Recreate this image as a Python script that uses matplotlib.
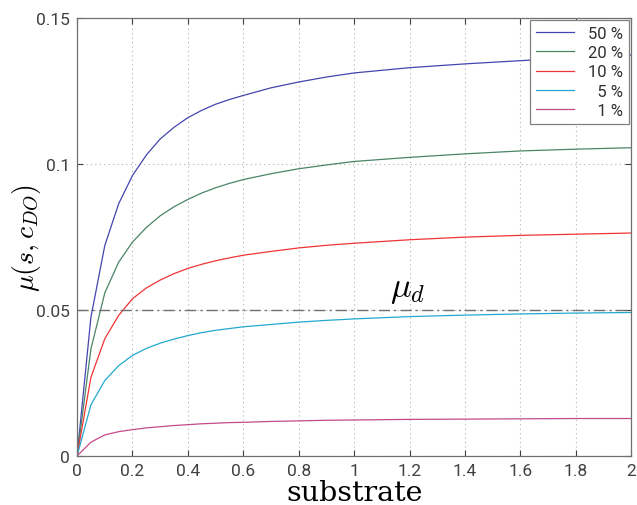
import matplotlib
matplotlib.use("Agg")
import matplotlib.pyplot as plt
import numpy as np

# substrate samples and growth rates
substrate = [0, 0.05, 0.1, 0.15, 0.2, 0.25, 0.3, 0.35, 0.4, 0.45, 0.5, 0.55, 0.6,
             0.7, 0.8, 0.9, 1.0, 1.2, 1.4, 1.6, 1.8, 2.0]
mu_50 = [0, 0.0475, 0.0720, 0.0863, 0.0960, 0.1030, 0.1085, 0.1125, 0.1158, 0.1183,
         0.1204, 0.1220, 0.1234, 0.1260, 0.1280, 0.1297, 0.1311, 0.1329, 0.1342,
         0.1353, 0.1363, 0.1372]
mu_20 = [0, 0.0366, 0.0558, 0.0663, 0.0732, 0.0782, 0.0822, 0.0853, 0.0878, 0.0900,
         0.0918, 0.0933, 0.0946, 0.0966, 0.0983, 0.0996, 0.1008, 0.1022, 0.1034,
         0.1044, 0.1050, 0.1055]
mu_10 = [0, 0.0269, 0.0401, 0.0481, 0.0538, 0.0575, 0.0602, 0.0624, 0.0642, 0.0656,
         0.0668, 0.0678, 0.0687, 0.0700, 0.0712, 0.0721, 0.0728, 0.0740, 0.0749,
         0.0755, 0.0759, 0.0763]
mu_5 = [0, 0.0175, 0.0258, 0.0309, 0.0344, 0.0368, 0.0386, 0.0400, 0.0412, 0.0422,
        0.0430, 0.0436, 0.0442, 0.0450, 0.0458, 0.0464, 0.0469, 0.0477, 0.0482,
        0.0486, 0.0489, 0.0491]
mu_1 = [0, 0.0047, 0.0072, 0.0083, 0.0090, 0.0096, 0.0100, 0.0104, 0.0107, 0.0110,
        0.0112, 0.0114, 0.0115, 0.0118, 0.0120, 0.0122, 0.0123, 0.0125, 0.0126,
        0.0127, 0.0128, 0.0128]
labels = ['50 %', '20 %', '10 %', '\u20075 %', '\u20071 %']
colors = ['#4545b0', '#4a8566', '#f03434', '#22a8d0', '#c44a8a']
mu_d = 0.05

plt.rcParams['font.family'] = ['Roboto', 'DejaVu Sans']
plt.rcParams['mathtext.fontset'] = 'cm'

fig = plt.figure(figsize=(6.37, 5.06), dpi=100)
ax = fig.add_axes([0.121, 0.097, 0.870, 0.866])

for y, lab, c in zip([mu_50, mu_20, mu_10, mu_5, mu_1], labels, colors):
    ax.plot(substrate, y, color=c, lw=0.9, label=lab)

ax.axhline(mu_d, color='#707070', lw=1.0, ls=(0, (8, 3, 1.5, 3)))
ax.text(1.13, 0.0515, r'$\mu_d$', fontsize=25, ha='left', va='bottom')

ax.set_xlim(0, 2)
ax.set_ylim(0, 0.15)
ax.set_xticks(np.arange(0, 2.01, 0.2))
ax.set_xticklabels(['0', '0.2', '0.4', '0.6', '0.8', '1', '1.2', '1.4', '1.6', '1.8', '2'])
ax.set_yticks([0, 0.05, 0.1, 0.15])
ax.set_yticklabels(['0', '0.05', '0.1', '0.15'])
ax.grid(True, color='#b0b0b0', ls=(0, (1, 3)), lw=0.8)
ax.tick_params(direction='in', top=True, right=True, labelsize=12.5,
               colors='#404040', length=4, pad=5)
for sp in ax.spines.values():
    sp.set_color('#707070')
    sp.set_linewidth(0.9)

ax.set_xlabel('substrate', fontsize=20.5, family='DejaVu Serif', labelpad=1)
ax.set_ylabel(r'$\mu(s, c_{DO})$', fontsize=20)
ax.yaxis.set_label_coords(-0.062, 0.5)

leg = ax.legend(loc='upper right', fontsize=12, frameon=True, fancybox=False,
                framealpha=1, edgecolor='#808080', borderaxespad=0.15,
                handlelength=2.3, labelspacing=0.25, borderpad=0.35)
leg.get_frame().set_linewidth(0.9)
for t in leg.get_texts():
    t.set_color('#303030')

fig.savefig('out.png', dpi=100)
